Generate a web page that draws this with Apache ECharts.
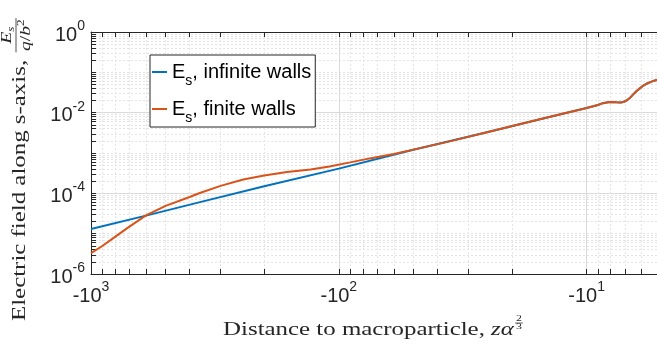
<!DOCTYPE html>
<html>
<head>
<meta charset="utf-8">
<script src="https://cdn.jsdelivr.net/npm/echarts@6/dist/echarts.min.js"></script>
<style>
  html, body { margin: 0; padding: 0; background: #ffffff; }
  #chart { width: 657px; height: 349px; }
</style>
</head>
<body>
<div id="chart"></div>
<script>
// Distance |z·α^(2/3)| (plotted as negative, so the axis is reversed) and field E_s/(q/b^2)
const zInfinite = [1000, 600, 350, 200, 100, 50, 25, 15, 10];
const eInfinite = [1.3e-5, 2.8e-5, 6.4e-5, 1.5e-4, 4.1e-4, 1.2e-3, 3.3e-3, 7.2e-3, 1.3e-2];

const zFinite = [1000, 900, 800, 707, 600, 500, 400, 364, 300, 243, 200, 162, 130, 109, 90, 75, 60, 47, 35, 25, 15, 10];
const eFinite = [3.3e-6, 4.95e-6, 8.3e-6, 1.43e-5, 2.83e-5, 4.87e-5, 8.1e-5, 1.02e-4, 1.53e-4, 2.21e-4, 2.78e-4, 3.4e-4,
                 3.92e-4, 4.65e-4, 5.85e-4, 7.35e-4, 9.5e-4, 1.32e-3, 2.0e-3, 3.3e-3, 7.2e-3, 1.3e-2];

// Close to the particle both wall models give the same field (resonance bump)
const zNear = [9, 8.6, 8.2, 7.9, 7.6, 7.3, 7.1, 6.9, 6.7, 6.5, 6.3, 6.1, 5.9, 5.7, 5.5, 5.3, 5.2];
const eNear = [1.55e-2, 1.72e-2, 1.82e-2, 1.83e-2, 1.80e-2, 1.79e-2, 1.84e-2, 2.0e-2, 2.3e-2, 2.8e-2, 3.4e-2,
               4.0e-2, 4.7e-2, 5.3e-2, 5.8e-2, 6.3e-2, 6.5e-2];

const seriesNames = ['infinite walls', 'finite walls'];

// Tick values
const xMajorTicks = [1000, 100, 10];
const xMinorTicks = [900, 800, 700, 600, 500, 400, 300, 200, 90, 80, 70, 60, 50, 40, 30, 20, 9, 8, 7, 6];
const yMajorTicks = [1, 1e-2, 1e-4, 1e-6];
const yDecades = [-6, -5, -4, -3, -2, -1];
const yMultipliers = [2, 3, 4, 5, 6, 7, 8, 9];

const X_MIN = 5.2, X_MAX = 1000;
const Y_MIN = 1e-6, Y_MAX = 1;

const yMinorTicks = [1e-5, 1e-3, 1e-1];
yDecades.forEach(d => yMultipliers.forEach(m => yMinorTicks.push(m * Math.pow(10, d))));
const yAllTicks = yMajorTicks.concat(yMinorTicks);
const xAllTicks = xMajorTicks.concat(xMinorTicks);

const pairs = (xs, ys) => xs.map((x, i) => [x, ys[i]]);

const AXIS_COLOR = '#262626';
const TEXT_COLOR = '#262626';
const SANS = '"Liberation Sans", Arial, Helvetica, sans-serif';
const SERIF = '"Liberation Serif", "Times New Roman", serif';
const MAJOR_GRID = '#dadada';
const MINOR_GRID = '#e4e4e4';

const tickRich = {
  b: { fontFamily: SANS, fontSize: 20, color: TEXT_COLOR, padding: [6, 0, 0, 0] },
  s: { fontFamily: SANS, fontSize: 14, color: TEXT_COLOR, padding: [0, 0, 12, 0] }
};
const expOf = v => Math.round(Math.log10(v));

function xAxisBase(extra) {
  return Object.assign({ type: 'log', logBase: 10, inverse: true, min: X_MIN, max: X_MAX, gridIndex: 0 }, extra);
}
function yAxisBase(extra) {
  return Object.assign({ type: 'log', logBase: 10, min: Y_MIN, max: Y_MAX, gridIndex: 0 }, extra);
}
function gridAxis(base, values, lineStyle) {
  return base({
    axisLine: { show: false },
    axisTick: { show: false, customValues: values },
    axisLabel: { show: false },
    splitLine: { show: true, lineStyle: lineStyle },
    minorTick: { show: false },
    minorSplitLine: { show: false }
  });
}

const xAxes = [
  xAxisBase({
    position: 'bottom',
    axisLine: { show: true, onZero: false, lineStyle: { color: AXIS_COLOR, width: 1 } },
    axisTick: { show: true, inside: true, length: 5, lineStyle: { color: AXIS_COLOR, width: 1 }, customValues: xAllTicks },
    axisLabel: {
      show: true, margin: 6, customValues: xMajorTicks,
      formatter: v => '{b|-10}{s|' + expOf(v) + '}', rich: tickRich
    },
    splitLine: { show: false }
  }),
  xAxisBase({
    position: 'top',
    axisLine: { show: true, onZero: false, lineStyle: { color: AXIS_COLOR, width: 1 } },
    axisTick: { show: true, inside: true, length: 5, lineStyle: { color: AXIS_COLOR, width: 1 }, customValues: xAllTicks },
    axisLabel: { show: false },
    splitLine: { show: false }
  }),
  gridAxis(xAxisBase, xMajorTicks, { color: MAJOR_GRID, width: 1 }),
  gridAxis(xAxisBase, xMinorTicks, { color: MINOR_GRID, width: 1, type: [2, 2] })
];

const yAxes = [
  yAxisBase({
    position: 'left',
    axisLine: { show: true, onZero: false, lineStyle: { color: AXIS_COLOR, width: 1 } },
    axisTick: { show: true, inside: true, length: 5, lineStyle: { color: AXIS_COLOR, width: 1 }, customValues: yAllTicks },
    axisLabel: {
      show: true, margin: 6, customValues: yMajorTicks,
      formatter: v => '{b|10}{s|' + expOf(v) + '}', rich: tickRich
    },
    splitLine: { show: false }
  }),
  gridAxis(yAxisBase, yMajorTicks, { color: MAJOR_GRID, width: 1 }),
  gridAxis(yAxisBase, yMinorTicks, { color: MINOR_GRID, width: 1, type: [2, 2] })
];

// Axis titles are typeset as small text groups (serif, with stacked fractions)
const measureCtx = document.createElement('canvas').getContext('2d');
function textWidth(str, font) { measureCtx.font = font; return measureCtx.measureText(str).width; }

const TITLE_SIZE = 19;
const titleFont = TITLE_SIZE + 'px ' + SERIF;
const titleItalic = 'italic ' + TITLE_SIZE + 'px ' + SERIF;
const xTitleMain = 'Distance to macroparticle, ';
const titleStretch = 268 / textWidth(xTitleMain, titleFont);

function txt(x, y, text, font, align) {
  return { type: 'text', x: x, y: y, style: { text: text, font: font, fill: TEXT_COLOR, align: align || 'left', verticalAlign: 'middle' } };
}

function xTitleGroup() {
  const w1 = textWidth(xTitleMain, titleFont);
  const w2 = textWidth('zα', titleItalic);
  const fracFont = '9px ' + SERIF;
  const fx = w1 + w2 + 4;
  const totalW = (fx + 6) * titleStretch;
  return {
    type: 'group', x: 375 - totalW / 2, y: 330, scaleX: titleStretch, silent: true,
    children: [
      txt(0, 0, xTitleMain, titleFont),
      txt(w1, 0, 'zα', titleItalic),
      txt(fx, -11, '2', fracFont, 'center'),
      { type: 'line', shape: { x1: fx - 3, y1: -7, x2: fx + 3, y2: -7 }, style: { stroke: TEXT_COLOR, lineWidth: 0.6 } },
      txt(fx, -3, '3', fracFont, 'center')
    ]
  };
}

function yTitleGroup() {
  const yMain = 'Electric field along s-axis, ';
  const w1 = textWidth(yMain, titleFont);
  const fSize = 15;
  const fItalic = 'italic ' + fSize + 'px ' + SERIF;
  const fRoman = fSize + 'px ' + SERIF;
  const subFont = 'italic 10px ' + SERIF;
  const supFont = '10px ' + SERIF;
  const wE = textWidth('E', fItalic);
  const wq = textWidth('q', fItalic), wSl = textWidth('/', fRoman), wb = textWidth('b', fItalic), w2 = textWidth('2', supFont);
  const numW = wE + textWidth('s', subFont);
  const denW = wq + wSl + wb + w2;
  const barW = Math.max(numW, denW) + 2;
  const fx = w1 + 1;
  const nx = fx + (barW - numW) / 2;
  const dx = fx + (barW - denW) / 2;
  return {
    type: 'group', x: 20, y: 321, rotation: Math.PI / 2, scaleX: titleStretch, silent: true,
    children: [
      txt(0, 0, yMain, titleFont),
      txt(nx, -13, 'E', fItalic),
      txt(nx + wE, -9, 's', subFont),
      { type: 'line', shape: { x1: fx, y1: -4, x2: fx + barW, y2: -4 }, style: { stroke: TEXT_COLOR, lineWidth: 0.7 } },
      txt(dx, 6, 'q', fItalic),
      txt(dx + wq, 6, '/', fRoman),
      txt(dx + wq + wSl, 6, 'b', fItalic),
      txt(dx + wq + wSl + wb, 1, '2', supFont)
    ]
  };
}

const legendRich = {
  e: { fontFamily: SANS, fontSize: 20, color: '#000000' },
  s: { fontFamily: SANS, fontSize: 14, color: '#000000', padding: [18, 0, 0, 0] },
  t: { fontFamily: SANS, fontSize: 20, color: '#000000' }
};

const chart = echarts.init(document.getElementById('chart'), null, { renderer: 'canvas' });
chart.setOption({
  animation: false,
  backgroundColor: '#ffffff',
  grid: { left: 91, right: 0, top: 32, bottom: 75, containLabel: false },
  xAxis: xAxes,
  yAxis: yAxes,
  legend: {
    orient: 'vertical', left: 150, top: 55,
    data: seriesNames, icon: 'rect', itemWidth: 15, itemHeight: 2, itemGap: 11,
    padding: [7, 4, 2, 2],
    backgroundColor: '#ffffff', borderColor: AXIS_COLOR, borderWidth: 1, borderRadius: 0,
    selectedMode: false,
    formatter: name => '{e|E}{s|s}{t|, ' + name + '}',
    textStyle: { rich: legendRich }
  },
  series: [
    {
      name: seriesNames[0], type: 'line', xAxisIndex: 0, yAxisIndex: 0,
      data: pairs(zInfinite.concat(zNear), eInfinite.concat(eNear)),
      showSymbol: false, symbol: 'none', z: 3,
      lineStyle: { color: '#0072BD', width: 2 }, itemStyle: { color: '#0072BD' }
    },
    {
      name: seriesNames[1], type: 'line', xAxisIndex: 0, yAxisIndex: 0,
      data: pairs(zFinite.concat(zNear), eFinite.concat(eNear)),
      showSymbol: false, symbol: 'none', z: 4,
      lineStyle: { color: '#D95319', width: 2 }, itemStyle: { color: '#D95319' }
    }
  ],
  graphic: [xTitleGroup(), yTitleGroup()]
});
</script>
</body>
</html>
